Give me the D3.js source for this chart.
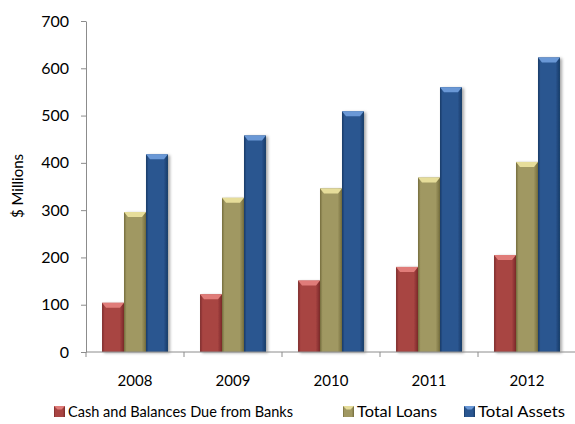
<!DOCTYPE html>
<html lang="en">
<head>
<meta charset="utf-8">
<title>Bank balances</title>
<script src="https://cdnjs.cloudflare.com/ajax/libs/d3/7.8.5/d3.min.js"></script>
<style>
  body { margin: 0; background: #fff; }
  text { font-family: Lato, "Open Sans", sans-serif; fill: #000; }
  .axis path, .axis line { stroke: #8c8c8c; }
</style>
</head>
<body>
<div id="plot"></div>
<script>
// data
var years = ["2008", "2009", "2010", "2011", "2012"];
var seriesNames = ["Cash and Balances Due from Banks", "Total Loans", "Total Assets"];
var cash = [104, 122, 151, 180, 205];
var loans = [296, 326, 346, 369, 402];
var assets = [418, 458, 509, 560, 623];
var yTicks = [0, 100, 200, 300, 400, 500, 600, 700];

var width = 575, height = 424;
var plotLeft = 86, plotRight = 576, plotTop = 21, plotBottom = 352;

// base colours: mid, dark edge, light cap
var colours = [
  { mid: "#a84442", dark: "#7a2a29", light: "#e07c79" },
  { mid: "#a09862", dark: "#746c3c", light: "#e6dd9a" },
  { mid: "#2a5690", dark: "#173a66", light: "#6a98d6" }
];

var table = years.map(function(y, i) {
  return { year: y, values: [cash[i], loans[i], assets[i]] };
});

var svg = d3.select("#plot").append("svg")
  .attr("width", width)
  .attr("height", height);

var defs = svg.append("defs");
colours.forEach(function(c, i) {
  var g = defs.append("linearGradient").attr("id", "grad" + i)
    .attr("x1", "0").attr("x2", "1").attr("y1", "0").attr("y2", "0");
  g.append("stop").attr("offset", "0%").attr("stop-color", c.dark);
  g.append("stop").attr("offset", "12%").attr("stop-color", c.mid);
  g.append("stop").attr("offset", "80%").attr("stop-color", c.mid);
  g.append("stop").attr("offset", "100%").attr("stop-color", c.dark);
});
var shadow = defs.append("filter").attr("id", "shadow")
  .attr("x", "-30%").attr("y", "-10%").attr("width", "170%").attr("height", "130%");
shadow.append("feDropShadow").attr("dx", 2).attr("dy", 1)
  .attr("stdDeviation", 1.5).attr("flood-color", "#000").attr("flood-opacity", 0.35);

var x0 = d3.scaleBand().domain(years).range([plotLeft, plotRight]);
var x1 = d3.scaleBand().domain(d3.range(3)).range([0, x0.bandwidth()]).paddingOuter(0.73);
var y = d3.scaleLinear().domain([0, 700]).range([plotBottom, plotTop]);

// y axis
svg.append("g")
  .attr("class", "axis")
  .attr("transform", "translate(" + plotLeft + ",0)")
  .call(d3.axisLeft(y).tickValues(yTicks).tickSize(5).tickSizeOuter(0).tickPadding(12))
  .call(function(g) {
    g.selectAll("text").style("font-size", "16px");
  });

svg.append("text")
  .attr("transform", "translate(23,186) rotate(-90)")
  .attr("text-anchor", "middle")
  .style("font-size", "15px")
  .text("$ Millions");

// bars
var groups = svg.selectAll(".year")
  .data(table)
  .enter().append("g")
  .attr("class", "year")
  .attr("transform", function(d) { return "translate(" + x0(d.year) + ",0)"; });

groups.selectAll(".bar")
  .data(function(d) { return d.values; })
  .enter().append("g")
  .attr("class", "bar")
  .each(function(v, i) {
    var g = d3.select(this);
    var bx = x1(i), bw = x1.bandwidth(), by = y(v), bh = y(0) - y(v);
    g.append("rect")
      .attr("x", bx).attr("y", by)
      .attr("width", bw).attr("height", bh)
      .attr("fill", "url(#grad" + i + ")")
      .attr("filter", "url(#shadow)");
    // light bevel cap on top
    g.append("path")
      .attr("d", "M" + bx + "," + by + "L" + (bx + bw) + "," + by +
        "L" + (bx + bw - 4) + "," + (by + 5) + "L" + (bx + 4) + "," + (by + 5) + "Z")
      .attr("fill", colours[i].light);
  });

// x axis, ticks at category boundaries
var xg = svg.append("g").attr("class", "axis");
xg.append("line")
  .attr("x1", plotLeft).attr("x2", plotRight)
  .attr("y1", plotBottom).attr("y2", plotBottom);
xg.selectAll(".tk")
  .data(years.concat(["end"]))
  .enter().append("line")
  .attr("x1", function(d) { return d === "end" ? plotRight : x0(d); })
  .attr("x2", function(d) { return d === "end" ? plotRight : x0(d); })
  .attr("y1", plotBottom).attr("y2", plotBottom + 5);
xg.selectAll(".lbl")
  .data(years)
  .enter().append("text")
  .attr("x", function(d) { return x0(d) + x0.bandwidth() / 2; })
  .attr("y", 386)
  .attr("text-anchor", "middle")
  .style("font-size", "15px")
  .text(function(d) { return d; });

// legend
var legendX = [54, 343, 464];
var legendW = [225, 80, 87];
var legend = svg.selectAll(".legend")
  .data(seriesNames)
  .enter().append("g")
  .attr("class", "legend")
  .attr("transform", function(d, i) { return "translate(" + legendX[i] + ",406)"; });
legend.append("rect")
  .attr("width", 11).attr("height", 11)
  .attr("fill", function(d, i) { return "url(#grad" + i + ")"; });
legend.append("path")
  .attr("d", "M0,0L11,0L7.5,3.5L3.5,3.5Z")
  .attr("fill", function(d, i) { return colours[i].light; });
legend.append("text")
  .attr("x", 14).attr("y", 11)
  .attr("textLength", function(d, i) { return legendW[i]; })
  .attr("lengthAdjust", "spacingAndGlyphs")
  .style("font-size", "15px")
  .text(function(d) { return d; });
</script>
</body>
</html>
